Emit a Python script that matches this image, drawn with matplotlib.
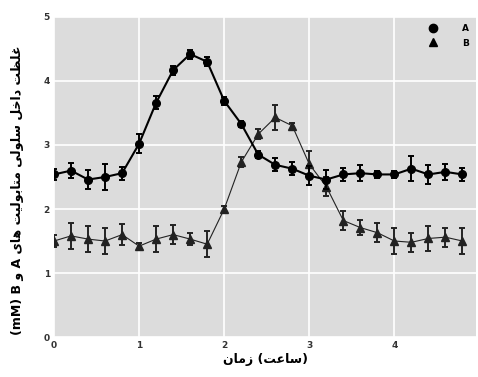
import numpy as np
import matplotlib.pyplot as plt
from matplotlib.lines import Line2D

# time points (hours)
time = [0.0, 0.2, 0.4, 0.6, 0.8, 1.0, 1.2, 1.4, 1.6, 1.8, 2.0, 2.2, 2.4,
        2.6, 2.8, 3.0, 3.2, 3.4, 3.6, 3.8, 4.0, 4.2, 4.4, 4.6, 4.8]

conc_a = [2.54, 2.6, 2.46, 2.5, 2.56, 3.02, 3.66, 4.17, 4.42, 4.3, 3.69, 3.33, 2.85,
          2.69, 2.63, 2.52, 2.46, 2.54, 2.56, 2.54, 2.54, 2.63, 2.54, 2.58, 2.54]
err_a = [0.08, 0.12, 0.15, 0.2, 0.1, 0.15, 0.1, 0.07, 0.07, 0.07, 0.06, 0.05, 0.05,
         0.1, 0.1, 0.15, 0.15, 0.1, 0.12, 0.05, 0.05, 0.2, 0.15, 0.12, 0.1]

conc_b = [1.5, 1.58, 1.53, 1.5, 1.6, 1.42, 1.53, 1.6, 1.53, 1.45, 2.0, 2.73, 3.17,
          3.43, 3.3, 2.7, 2.35, 1.82, 1.71, 1.63, 1.5, 1.48, 1.54, 1.56, 1.5]
err_b = [0.1, 0.2, 0.2, 0.2, 0.17, 0.05, 0.2, 0.15, 0.1, 0.2, 0.05, 0.08, 0.08,
         0.2, 0.05, 0.2, 0.15, 0.15, 0.12, 0.15, 0.2, 0.15, 0.2, 0.15, 0.2]

# Persian labels, pre-shaped (presentation forms, visual order)
xlabel = "\uFEE5\uFE8E\uFEE3\uFEAF (\uFE96\uFECB\uFE8E\uFEB3)"
ylabel = ("(mM) B \uFEED A \uFBFC\uFE8E\uFEEB "
          "\uFE96\uFBFF\uFEDF\uFEEE\uFE91\uFE8E\uFE98\uFEE3 "
          "\uFBFD\uFEDF\uFEEE\uFEE0\uFEB3 "
          "\uFEDE\uFEA7\uFE8D\uFEA9 "
          "\uFE96\uFEC8\uFEE0\uFECF")

fig = plt.figure(figsize=(4.78, 3.77), dpi=100)
ax = fig.add_axes([0.113, 0.106, 0.883, 0.849])
ax.set_facecolor('#dcdcdc')

ax.errorbar(time, conc_b, yerr=err_b, color='#222222', lw=0.8, marker='^', ms=5.5,
            capsize=2.5, elinewidth=1.4, capthick=1.4, zorder=3)
ax.errorbar(time, conc_a, yerr=err_a, color='black', lw=1.5, marker='o', ms=5.5,
            capsize=2.5, elinewidth=1.4, capthick=1.4, zorder=4)

ax.set_xlim(0, 4.96)
ax.set_ylim(0, 5)
ax.set_xticks([0, 1, 2, 3, 4])
ax.set_yticks([0, 1, 2, 3, 4, 5])
ax.grid(color='white', linewidth=1.2)
ax.set_axisbelow(True)
for s in ax.spines.values():
    s.set_visible(False)
ax.tick_params(length=0, labelsize=6.5, colors='#333333', pad=3)
for t in ax.get_xticklabels() + ax.get_yticklabels():
    t.set_fontweight('bold')

ax.set_xlabel(xlabel, fontsize=9, fontweight='bold', labelpad=2)
ax.set_ylabel(ylabel, fontsize=9, fontweight='bold')
ax.yaxis.set_label_coords(-0.07, 0.46)

# legend: markers only
h = [Line2D([], [], color='black', marker='o', ls='none', ms=6),
     Line2D([], [], color='black', marker='^', ls='none', ms=6)]
leg = ax.legend(h, ['A', 'B'], loc='upper right', frameon=False, fontsize=6.5,
                handletextpad=2.2, labelspacing=0.6, borderaxespad=0.4)
for t in leg.get_texts():
    t.set_fontweight('bold')

fig.savefig('out.png', dpi=100)
